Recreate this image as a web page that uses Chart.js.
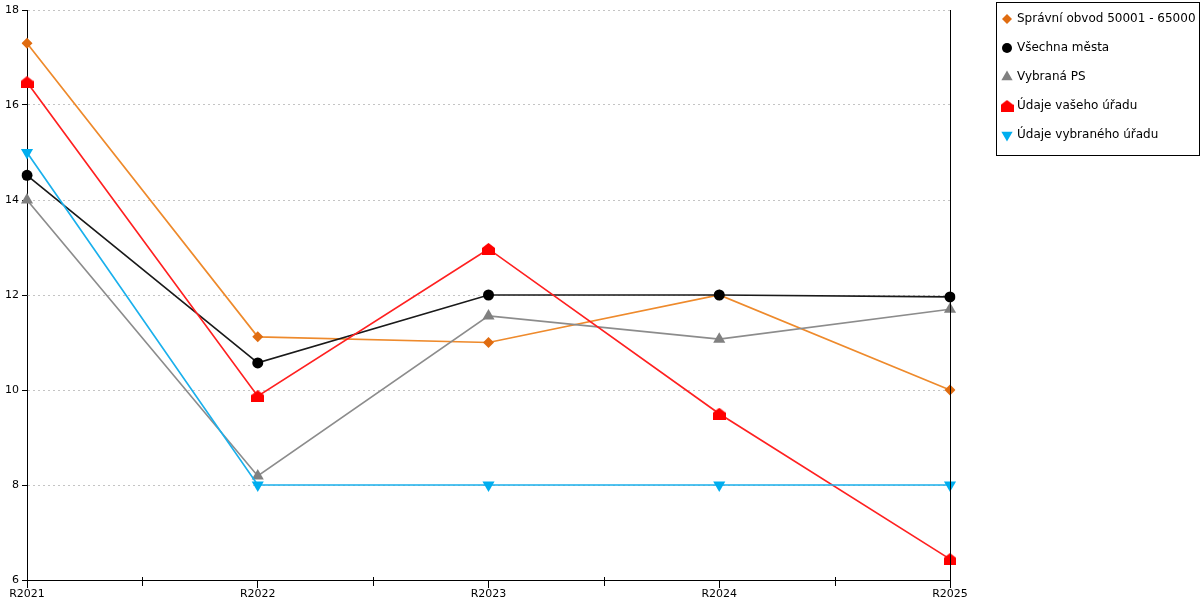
<!DOCTYPE html>
<html>
<head>
<meta charset="utf-8">
<script src="https://cdn.jsdelivr.net/npm/chart.js@4/dist/chart.umd.min.js"></script>
<style>
  html, body { margin: 0; padding: 0; background: #fff; }
  #wrap { width: 1200px; height: 600px; }
</style>
</head>
<body>
<div id="wrap"><canvas id="chart"></canvas></div>
<script>
const categories = ["R2021", "R2022", "R2023", "R2024", "R2025"];
const seriesNames = ["Správní obvod 50001 - 65000", "Všechna města", "Vybraná PS", "Údaje vašeho úřadu", "Údaje vybraného úřadu"];
const obvodValues = [17.3, 11.12, 11.0, 12.0, 10.0];
const mestaValues = [14.52, 10.57, 12.0, 12.0, 11.96];
const psValues = [14.0, 8.19, 11.56, 11.07, 11.7];
const uradValues = [16.48, 9.87, 12.97, 9.5, 6.44];
const vybranyValues = [15.0, 8.0, 8.0, 8.0, 8.0];
const yTicks = [6, 8, 10, 12, 14, 16, 18];

// house shaped marker for "Údaje vašeho úřadu"
function houseMarker(color) {
    const c = document.createElement("canvas");
    c.width = 13; c.height = 12;
    const g = c.getContext("2d");
    g.fillStyle = color;
    g.beginPath();
    g.moveTo(0, 5); g.lineTo(6.5, 0); g.lineTo(13, 5);
    g.lineTo(13, 12); g.lineTo(0, 12);
    g.closePath();
    g.fill();
    return c;
}
const redHouse = houseMarker("#ff0000");

const styles = [
    { line: "#ee8a2c", point: "#e06c10", shape: "rectRot", radius: 5.5, rot: 0 },
    { line: "#1a1a1a", point: "#000000", shape: "circle", radius: 5.5, rot: 0 },
    { line: "#8c8c8c", point: "#808080", shape: "triangle", radius: 7, rot: 0 },
    { line: "#ff2020", point: "#ff0000", shape: redHouse, radius: 6, rot: 0 },
    { line: "#1ab0ec", point: "#00aeef", shape: "triangle", radius: 7, rot: 180 }
];
const allValues = [obvodValues, mestaValues, psValues, uradValues, vybranyValues];

const datasets = allValues.map((vals, i) => ({
    label: seriesNames[i],
    data: vals,
    borderColor: styles[i].line,
    backgroundColor: styles[i].point,
    pointBackgroundColor: styles[i].point,
    pointBorderColor: styles[i].point,
    pointBorderWidth: 0,
    pointStyle: styles[i].shape,
    pointRadius: styles[i].radius,
    pointRotation: styles[i].rot,
    borderWidth: 1.7,
    tension: 0,
    order: 5 - i
}));

const FONT = "'DejaVu Sans', Verdana, sans-serif";

// legend box, midpoint ticks and right border line
const extras = {
    id: "extras",
    afterDraw(chart) {
        const ctx = chart.ctx;
        const area = chart.chartArea;
        const xs = chart.scales.x;
        ctx.save();
        ctx.strokeStyle = "#000";
        ctx.lineWidth = 1;
        // right frame line
        ctx.beginPath();
        ctx.moveTo(Math.round(area.right) + 0.5, area.top);
        ctx.lineTo(Math.round(area.right) + 0.5, area.bottom + 8);
        ctx.stroke();
        // midpoint ticks on x axis
        for (let i = 0; i < categories.length - 1; i++) {
            const mx = Math.round((xs.getPixelForValue(i) + xs.getPixelForValue(i + 1)) / 2) + 0.5;
            ctx.beginPath();
            ctx.moveTo(mx, area.bottom - 3);
            ctx.lineTo(mx, area.bottom + 6);
            ctx.stroke();
        }
        // legend
        const lx = 996.5, ly = 2.5, lw = 203, lh = 153;
        ctx.strokeRect(lx, ly, lw, lh);
        ctx.font = "12px " + FONT;
        ctx.textBaseline = "middle";
        chart.data.datasets.forEach((ds, i) => {
            const cy = 19 + i * 29;
            const st = styles[i];
            ctx.fillStyle = st.point;
            Chart.helpers.drawPoint(ctx, {
                pointStyle: st.shape,
                rotation: st.rot,
                radius: st.radius - 0.5,
                borderWidth: 0
            }, 1007, cy);
            ctx.fillStyle = "#000";
            ctx.fillText(ds.label, 1017, cy);
        });
        ctx.restore();
    }
};

new Chart(document.getElementById("chart"), {
    type: "line",
    data: { labels: categories, datasets: datasets },
    options: {
        responsive: true,
        maintainAspectRatio: false,
        animation: false,
        layout: { padding: { top: 10, right: 250, left: 0, bottom: 0 } },
        plugins: {
            legend: { display: false },
            tooltip: { enabled: false }
        },
        scales: {
            x: {
                offset: false,
                grid: {
                    drawOnChartArea: false,
                    tickLength: 8,
                    tickColor: "#000"
                },
                border: { color: "#000", width: 1 },
                ticks: {
                    color: "#000",
                    font: { family: FONT, size: 11 },
                    padding: 0,
                    maxRotation: 0,
                    autoSkip: false
                },
                afterFit(scale) { scale.height = 20; }
            },
            y: {
                min: yTicks[0],
                max: yTicks[yTicks.length - 1],
                afterBuildTicks(scale) { scale.ticks = yTicks.map(v => ({ value: v })); },
                grid: {
                    color: "#c4c4c4",
                    lineWidth: 1,
                    tickLength: 5,
                    tickColor: "#000"
                },
                border: { color: "#000", width: 1, dash: [2, 3] },
                ticks: {
                    color: "#000",
                    font: { family: FONT, size: 11 },
                    padding: 3
                },
                afterFit(scale) { scale.width = 27; }
            }
        }
    },
    plugins: [extras]
});
</script>
</body>
</html>
